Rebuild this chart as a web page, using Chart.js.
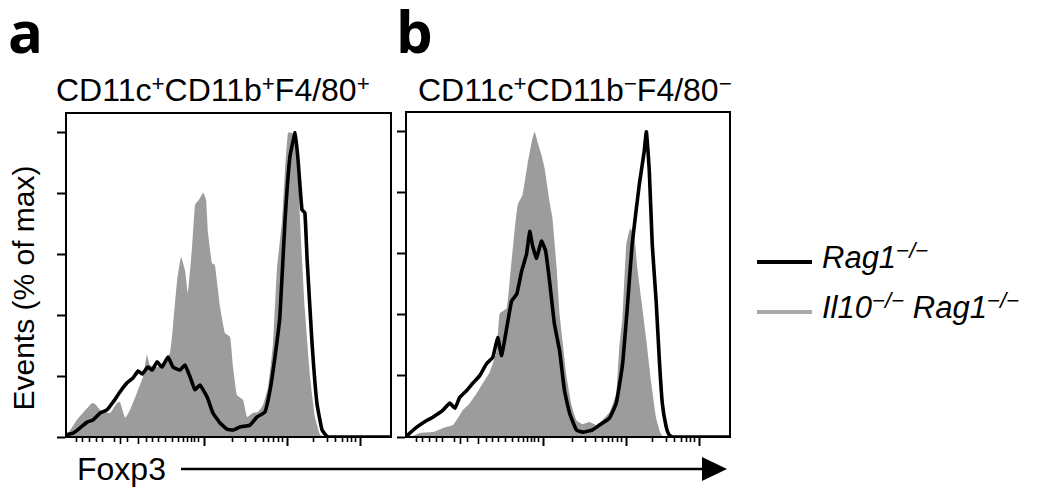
<!DOCTYPE html>
<html>
<head>
<meta charset="utf-8">
<script src="https://cdn.jsdelivr.net/npm/chart.js@4.4.1/dist/chart.umd.min.js"></script>
<style>
  html, body { margin:0; padding:0; background:#fff; }
  body { width:1050px; height:495px; position:relative; overflow:hidden; font-family:"Liberation Sans", Arial, sans-serif; color:#000; }
  .abs { position:absolute; white-space:nowrap; }
  .panel { position:absolute; }
  .letter { font-family:"Open Sans", sans-serif; font-weight:700; font-size:58px; line-height:58px; }
  .sub { font-size:32px; line-height:32px; }
  .sup { font-size:0.7em; position:relative; top:-0.45em; }
  .leg { font-size:31px; line-height:31px; font-style:italic; }
  .lsup { font-size:0.72em; position:relative; top:-0.45em; }
</style>
</head>
<body>
<!-- panel letters -->
<div class="abs letter" style="left:8px; top:2px;">a</div>
<div class="abs letter" style="left:396px; top:2px;">b</div>

<!-- panel titles -->
<div class="abs sub" style="left:56px; top:74px;">CD11c<span class="sup">+</span>CD11b<span class="sup">+</span>F4/80<span class="sup">+</span></div>
<div class="abs sub" style="left:418px; top:74px;">CD11c<span class="sup">+</span>CD11b<span class="sup">−</span>F4/80<span class="sup">−</span></div>

<!-- y title -->
<div class="abs" style="left:24px; top:288px; font-size:30px; line-height:30px; transform:translate(-50%,-50%) rotate(-90deg);">Events (% of max)</div>

<!-- x title + arrow -->
<div class="abs" style="left:77px; top:453px; font-size:32px; line-height:32px;">Foxp3</div>
<svg class="abs" style="left:0; top:0;" width="1050" height="495">
  <line x1="181" y1="469" x2="706" y2="469" stroke="#000" stroke-width="2.5"/>
  <polygon points="702,457 727,469 702,481" fill="#000"/>
  <line x1="757" y1="262" x2="812" y2="262" stroke="#000" stroke-width="4"/>
  <line x1="757" y1="312" x2="812" y2="312" stroke="#a8a8a8" stroke-width="4"/>
</svg>

<!-- legend text -->
<div class="abs leg" style="left:822px; top:242px;">Rag1<span class="lsup">−/−</span></div>
<div class="abs leg" style="left:822px; top:292px;">Il10<span class="lsup">−/−</span> Rag1<span class="lsup">−/−</span></div>

<canvas id="chartA" class="panel" width="354" height="354" style="left:47px; top:103px;"></canvas>
<canvas id="chartB" class="panel" width="353" height="355" style="left:387px; top:102px;"></canvas>

<script>
// ---- data (Foxp3 channel 0-1000, % of max) ----
const seriesLabels = ['Rag1−/−', 'Il10−/− Rag1−/−'];

// Panel a: CD11c+CD11b+F4/80+
const aIl10X = [0, 33, 52, 80, 89, 105, 135, 157, 166, 182, 197, 218, 237, 249, 258, 280, 298, 320, 329, 342, 354, 366, 375, 388, 397, 409, 422, 431, 437, 449, 458, 474, 489, 505, 514, 526, 545, 557, 575, 591, 606, 622, 637, 649, 665, 674, 683, 695, 705, 714, 720, 735, 751, 766, 782, 797, 1000];
const aIl10Y = [0, 5.6, 7.9, 11.2, 10.9, 8.9, 7.9, 11.2, 11.5, 6.3, 8.9, 14.5, 19.7, 27.0, 23.7, 23.0, 24.3, 27.6, 36.2, 51.6, 59.2, 54.9, 47.4, 62.5, 76.3, 78.0, 80.3, 78.0, 67.1, 57.2, 56.6, 42.8, 34.2, 32.9, 23.0, 13.8, 12.2, 6.6, 7.9, 8.2, 10.5, 16.4, 30.9, 54.9, 71.4, 87.8, 100, 100, 98.7, 94.4, 71.4, 41.8, 19.7, 6.6, 0.7, 0, 0];
const aRag1X = [0, 22, 43, 65, 83, 105, 126, 145, 166, 188, 206, 222, 234, 252, 265, 280, 295, 314, 329, 351, 366, 382, 397, 412, 434, 452, 474, 495, 514, 535, 566, 588, 612, 628, 643, 658, 674, 689, 705, 714, 726, 735, 742, 757, 772, 788, 806, 1000];
const aRag1Y = [0.7, 1.3, 3.0, 4.9, 5.6, 7.9, 8.9, 11.5, 14.8, 17.8, 19.4, 21.7, 20.7, 23.0, 22.0, 24.7, 23.0, 26.3, 23.0, 22.0, 23.7, 19.7, 15.5, 17.1, 13.2, 7.9, 4.6, 2.6, 2.3, 3.3, 3.9, 6.6, 8.2, 15.5, 26.3, 39.5, 71.4, 92.1, 100, 91.1, 74.7, 73.7, 58.2, 30.9, 11.2, 2.3, 0, 0];

// Panel b: CD11c+CD11b-F4/80-
const bIl10X = [0, 12, 43, 83, 114, 145, 160, 175, 197, 218, 237, 258, 280, 289, 311, 320, 335, 345, 360, 375, 388, 397, 406, 418, 428, 443, 452, 465, 474, 483, 495, 511, 526, 545, 566, 588, 606, 628, 649, 658, 668, 680, 692, 705, 714, 726, 742, 757, 772, 785, 797, 1000];
const bIl10Y = [0, 0, 1.3, 1.6, 2.9, 3.9, 6.2, 8.8, 11.1, 14.3, 17.6, 21.2, 28.3, 40.4, 42.3, 51.1, 67.4, 76.2, 79.5, 89.3, 96.7, 100, 96.7, 92.5, 87.9, 77.2, 71.7, 55.4, 40.4, 31.6, 20.2, 10.4, 5.5, 4.2, 4.9, 3.9, 5.5, 8.1, 14.3, 29.0, 39.1, 63.2, 68.4, 65.8, 55.4, 45.3, 31.6, 17.6, 6.2, 1.3, 0, 0];
const bRag1X = [0, 6, 34, 65, 83, 114, 135, 151, 166, 188, 206, 228, 249, 268, 283, 295, 311, 326, 342, 357, 372, 382, 391, 403, 418, 431, 443, 458, 474, 489, 505, 526, 545, 575, 597, 628, 649, 668, 683, 698, 720, 735, 742, 751, 760, 772, 782, 791, 803, 812, 822, 1000];
const bRag1Y = [0, 0.7, 3.3, 5.5, 6.5, 8.8, 11.1, 9.4, 13.0, 15.3, 17.6, 20.2, 24.1, 26.1, 32.6, 26.7, 35.8, 44.6, 46.9, 54.4, 59.9, 67.4, 62.5, 58.6, 64.2, 60.9, 51.1, 37.1, 28.3, 15.3, 7.8, 2.3, 1.6, 2.3, 3.9, 6.2, 11.1, 23.5, 42.3, 63.2, 82.7, 93.5, 100, 87.0, 63.2, 44.6, 25.1, 11.1, 3.3, 0.7, 0, 0];

// axis ticks
const yTicks = [0, 20, 40, 60, 80, 100];
const xMajorTicks = [425, 680, 905];
const xMidTicks = [166, 222];
const xMinorTicks = [31, 49, 71, 92, 111, 148, 188, 246, 265, 283, 305, 326, 345, 360, 372, 385, 394, 406, 511, 551, 582, 606, 622, 637, 652, 665, 760, 803, 828, 849, 865, 877, 889];

const GRAY = '#9c9c9c';

const framePlugin = {
  id: 'frame',
  afterDraw(chart) {
    const { ctx, chartArea: ca, scales } = chart;
    const x = scales.x;
    ctx.save();
    ctx.strokeStyle = '#000';
    ctx.lineWidth = 2;
    ctx.strokeRect(ca.left, ca.top, ca.right - ca.left, ca.bottom - ca.top);
    ctx.lineWidth = 1.6;
    const drawTicks = (vals, len) => vals.forEach(v => {
      const px = Math.round(x.getPixelForValue(v)) + 0.5;
      ctx.beginPath();
      ctx.moveTo(px, ca.bottom);
      ctx.lineTo(px, ca.bottom + len);
      ctx.stroke();
    });
    drawTicks(xMinorTicks, 5);
    drawTicks(xMidTicks, 7);
    ctx.restore();
  }
};

function pts(xs, ys) { return xs.map((v, i) => ({ x: v, y: ys[i] })); }

function makePanel(id, grayX, grayY, blackX, blackY) {
  new Chart(document.getElementById(id), {
    type: 'line',
    data: {
      datasets: [
        { label: seriesLabels[0], data: pts(blackX, blackY), borderColor: '#000', borderWidth: 3.6,
          pointRadius: 0, fill: false, tension: 0.12, order: 0, borderJoinStyle: 'round', borderCapStyle: 'round' },
        { label: seriesLabels[1], data: pts(grayX, grayY), borderColor: GRAY, borderWidth: 0,
          backgroundColor: GRAY, pointRadius: 0, fill: 'origin', tension: 0.12, order: 1 }
      ]
    },
    options: {
      responsive: false, animation: false, devicePixelRatio: 1,
      layout: { padding: { left: 10, top: 10, right: 10, bottom: 11 } },
      plugins: { legend: { display: false }, tooltip: { enabled: false } },
      scales: {
        x: {
          type: 'linear', min: 0, max: 1000,
          afterBuildTicks: s => { s.ticks = xMajorTicks.map(v => ({ value: v })); },
          ticks: { display: false },
          grid: { drawOnChartArea: false, drawTicks: true, tickLength: 9, tickWidth: 2, tickColor: '#000' },
          border: { display: true, color: '#000', width: 2 }
        },
        y: {
          type: 'linear', min: 0, max: 106.5,
          afterBuildTicks: s => { s.ticks = yTicks.map(v => ({ value: v })); },
          ticks: { display: false },
          grid: { drawOnChartArea: false, drawTicks: true, tickLength: 9, tickWidth: 2, tickColor: '#000' },
          border: { display: true, color: '#000', width: 2 }
        }
      }
    },
    plugins: [framePlugin]
  });
}

makePanel('chartA', aIl10X, aIl10Y, aRag1X, aRag1Y);
makePanel('chartB', bIl10X, bIl10Y, bRag1X, bRag1Y);
</script>
</body>
</html>
